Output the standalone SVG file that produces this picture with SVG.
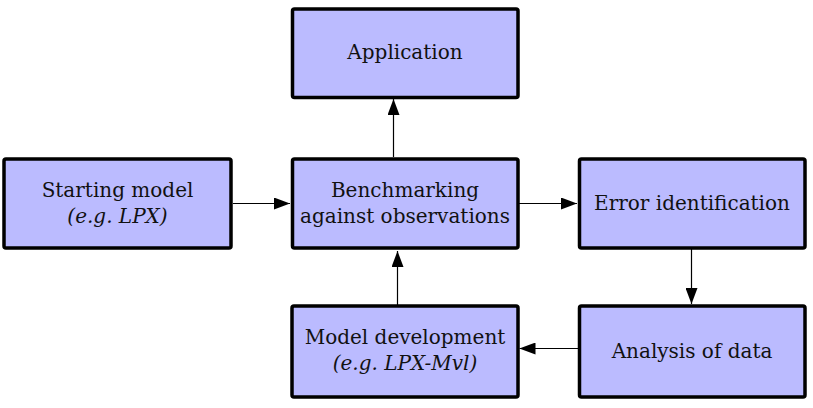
<svg xmlns="http://www.w3.org/2000/svg" width="813" height="408" viewBox="0 0 813 408">
<style>
.box{fill:#bbbbff;stroke:#000;stroke-width:3.5}
.t{font-family:"DejaVu Serif",serif;font-size:20px;fill:#111;text-anchor:middle}
.i{font-style:italic}
.c{stroke:#000;stroke-width:1.2;fill:none;marker-end:url(#ah)}
</style>
<defs>
<marker id="ah" markerUnits="userSpaceOnUse" markerWidth="16" markerHeight="12" refX="16" refY="6" orient="auto">
<path d="M0,0 L16,6 L0,12 Z" fill="#000"/>
</marker>
</defs>
<rect width="813" height="408" fill="#fff"/>
<g id="connectors">
<path class="c" d="M233,203.5 H290"/>
<path class="c" d="M393.5,157 V99"/>
<path class="c" d="M519,203.5 H577"/>
<path class="c" d="M691.5,249 V304"/>
<path class="c" d="M578,348.5 H519.5"/>
<path class="c" d="M397.5,305 V251"/>
</g>
<g id="application">
<rect class="box" x="292.5" y="9" width="225.5" height="88.5" rx="2"/>
<text class="t" x="405" y="59">Application</text>
</g>
<g id="starting">
<rect class="box" x="4" y="159" width="227" height="89" rx="2"/>
<text class="t" x="117.5" y="197">Starting model</text>
<text class="t i" x="117.5" y="223">(e.g. LPX)</text>
</g>
<g id="benchmarking">
<rect class="box" x="292.5" y="159" width="225.5" height="89" rx="2"/>
<text class="t" x="405" y="197">Benchmarking</text>
<text class="t" x="405" y="223">against observations</text>
</g>
<g id="error">
<rect class="box" x="579.5" y="159" width="225.5" height="89" rx="2"/>
<text class="t" x="692" y="210">Error identification</text>
</g>
<g id="analysis">
<rect class="box" x="579.5" y="306" width="225.5" height="91" rx="2"/>
<text class="t" x="692" y="358">Analysis of data</text>
</g>
<g id="modeldev">
<rect class="box" x="292" y="306" width="226" height="91" rx="2"/>
<text class="t" x="405" y="344">Model development</text>
<text class="t i" x="405" y="370">(e.g. LPX-Mvl)</text>
</g>
</svg>
